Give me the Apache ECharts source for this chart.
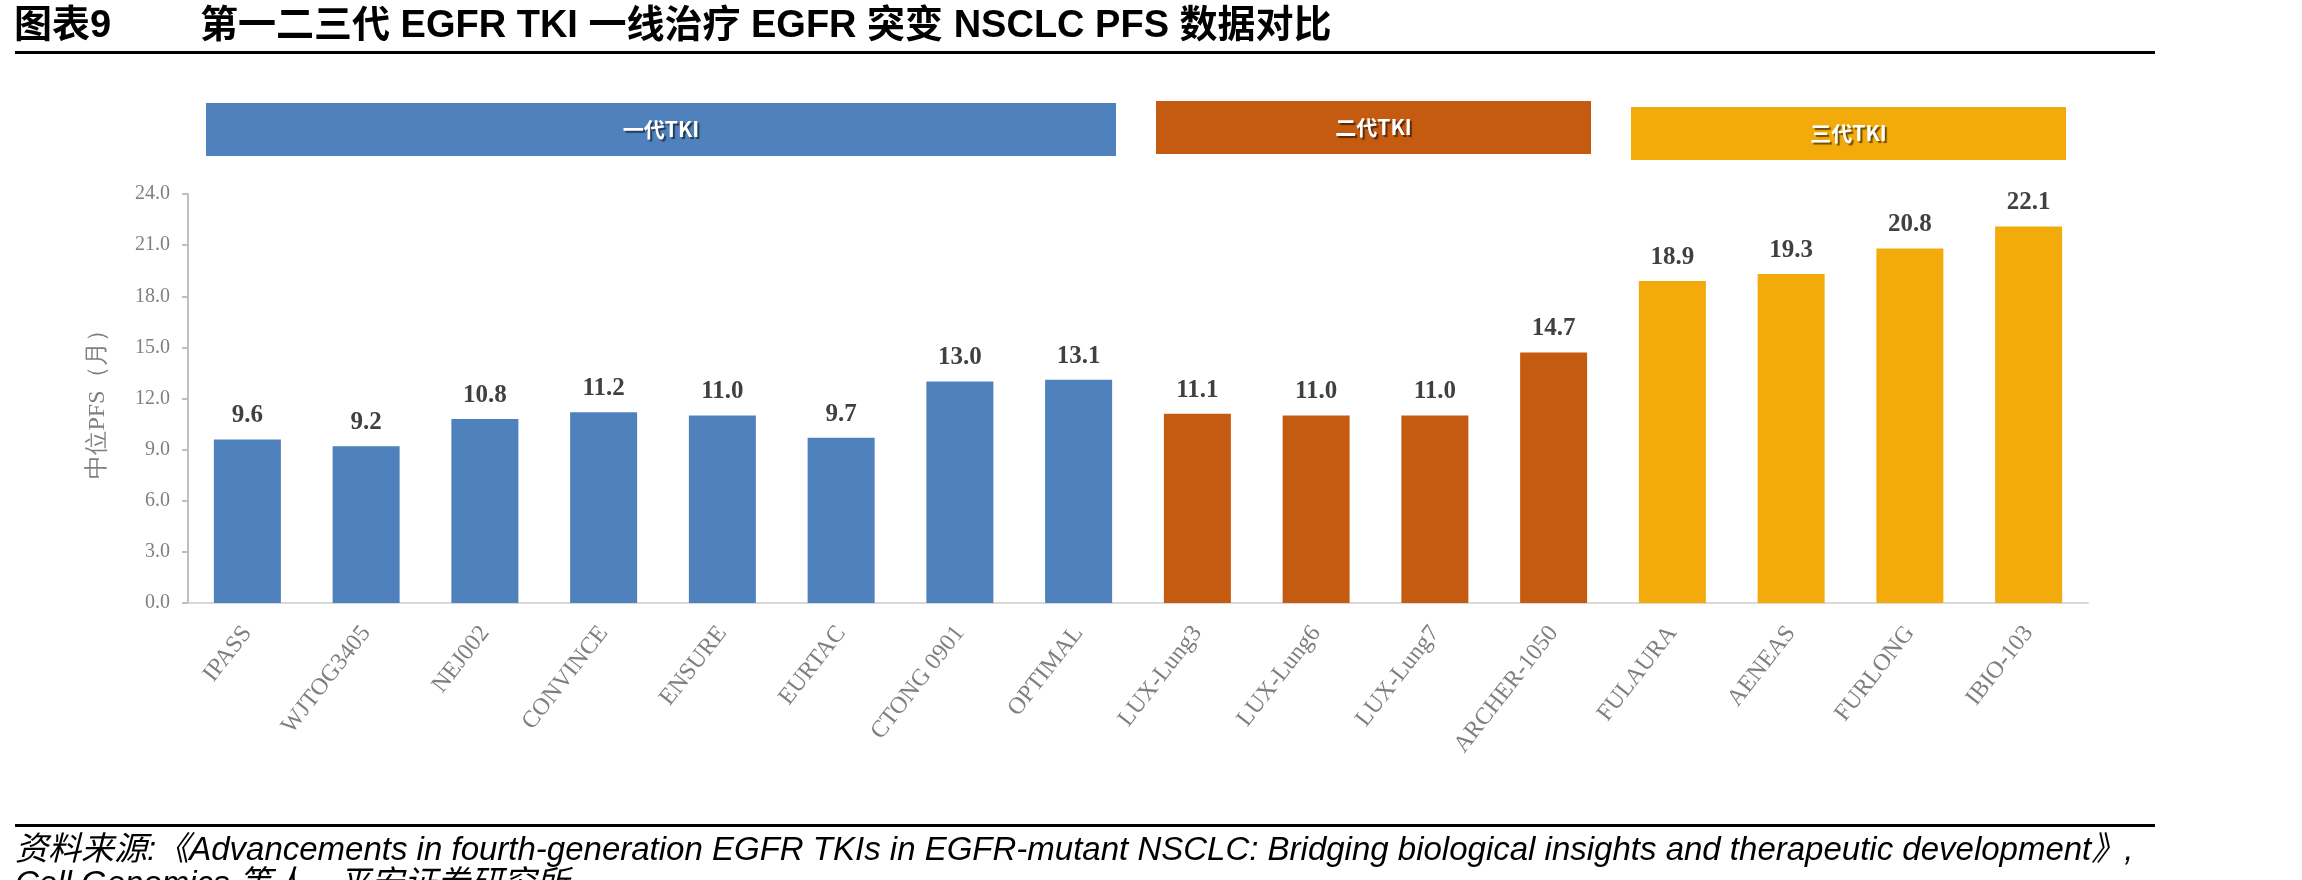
<!DOCTYPE html>
<html>
<head>
<meta charset="utf-8">
<script src="https://cdn.jsdelivr.net/npm/echarts@6/dist/echarts.min.js"></script>
<style>
  html, body { margin: 0; padding: 0; background: #fff; }
  #main { width: 2302px; height: 880px; }
</style>
</head>
<body>
<div id="main"></div>
<script>
// 试验名称 / 中位PFS（月）
const categories = ['IPASS', 'WJTOG3405', 'NEJ002', 'CONVINCE', 'ENSURE', 'EURTAC', 'CTONG 0901', 'OPTIMAL',
  'LUX-Lung3', 'LUX-Lung6', 'LUX-Lung7', 'ARCHER-1050', 'FULAURA', 'AENEAS', 'FURLONG', 'IBIO-103'];
const pfsValues = [9.6, 9.2, 10.8, 11.2, 11.0, 9.7, 13.0, 13.1, 11.1, 11.0, 11.0, 14.7, 18.9, 19.3, 20.8, 22.1];
const generations = ['一代TKI', '二代TKI', '三代TKI'];
const generationOf = [0, 0, 0, 0, 0, 0, 0, 0, 1, 1, 1, 1, 2, 2, 2, 2];
const generationColors = ['#4f81bd', '#c55a11', '#f2ab0a'];
const yTickStep = 3;
const yMax = 24;

const titleText = '第一二三代 EGFR TKI 一线治疗 EGFR 突变 NSCLC PFS 数据对比';
const sourceLine1 = '资料来源:《Advancements in fourth-generation EGFR TKIs in EGFR-mutant NSCLC: Bridging biological insights and therapeutic development》,';
const sourceLine2 = 'Cell Genomics 等人，平安证券研究所';

const SANS = '"Liberation Sans Narrow", "Liberation Sans", "Noto Sans CJK SC", sans-serif';
const SERIF = '"Liberation Serif", "Times New Roman", serif';

let chart = echarts.init(document.getElementById('main'));

chart.setOption({
  animation: false,
  grid: { left: 188, right: 214, top: 194, bottom: 277 },
  xAxis: {
    type: 'category',
    data: categories,
    axisLine: { lineStyle: { color: '#d9d9d9', width: 2 } },
    axisTick: { show: false },
    axisLabel: {
      interval: 0,
      rotate: 52,
      margin: 26,
      color: '#7f7f7f',
      fontFamily: SERIF,
      fontSize: 24
    }
  },
  yAxis: {
    type: 'value',
    min: 0,
    max: yMax,
    interval: yTickStep,
    name: '中位PFS（月）',
    nameLocation: 'middle',
    nameRotate: 90,
    nameGap: 78,
    nameTextStyle: { color: '#7f7f7f', fontSize: 24, fontFamily: SERIF },
    axisLine: { show: true, lineStyle: { color: '#bfbfbf', width: 2 } },
    axisTick: { show: true, inside: false, length: 6, lineStyle: { color: '#bfbfbf', width: 2 } },
    splitLine: { show: false },
    axisLabel: {
      margin: 18,
      color: '#7f7f7f',
      fontFamily: SERIF,
      fontSize: 20,
      formatter: v => v.toFixed(1)
    }
  },
  series: [{
    type: 'bar',
    data: pfsValues,
    barWidth: 67,
    itemStyle: {
      color: p => generationColors[generationOf[p.dataIndex]]
    },
    label: {
      show: true,
      position: 'top',
      distance: 11,
      color: '#404040',
      fontFamily: SERIF,
      fontWeight: 'bold',
      fontSize: 25,
      formatter: p => p.value.toFixed(1)
    }
  }]
});

// 分代色块：位置由类目轴换算
const step = chart.convertToPixel({ xAxisIndex: 0 }, 1) - chart.convertToPixel({ xAxisIndex: 0 }, 0);
const bandTops = [103, 101, 107];
let bands = generations.map((g, k) => {
  const idx = generationOf.map((v, i) => v === k ? i : -1).filter(i => i >= 0);
  const x0 = chart.convertToPixel({ xAxisIndex: 0 }, idx[0]) - step / 2 + 18;
  const x1 = chart.convertToPixel({ xAxisIndex: 0 }, idx[idx.length - 1]) + step / 2 - 22;
  return {
    type: 'group',
    x: x0,
    y: bandTops[k],
    children: [
      { type: 'rect', shape: { x: 0, y: 0, width: x1 - x0, height: 53 }, style: { fill: generationColors[k] } },
      {
        type: 'text',
        x: (x1 - x0) / 2,
        y: 26,
        style: {
          text: g, fill: '#fff', font: 'bold 21px "Noto Sans CJK SC", sans-serif',
          align: 'center', verticalAlign: 'middle',
          textShadowColor: 'rgba(0,0,0,0.55)', textShadowOffsetX: 2, textShadowOffsetY: 2, textShadowBlur: 1
        }
      }
    ]
  };
});

chart.setOption({
  graphic: [
    { type: 'text', x: 14, y: 8, style: { text: '图表9', fill: '#000', font: 'bold 38px ' + SANS } },
    { type: 'text', x: 200, y: 8, style: { text: titleText, fill: '#000', font: 'bold 38px ' + SANS } },
    { type: 'rect', shape: { x: 15, y: 51, width: 2140, height: 3 }, style: { fill: '#000' } },
    ...bands,
    { type: 'rect', shape: { x: 15, y: 824, width: 2140, height: 3 }, style: { fill: '#000' } },
    { type: 'text', x: 15, y: 834, style: { text: sourceLine1, fill: '#000', font: 'italic 33px ' + SANS } },
    { type: 'text', x: 15, y: 868, style: { text: sourceLine2, fill: '#000', font: 'italic 33px ' + SANS } }
  ]
});
</script>
</body>
</html>
